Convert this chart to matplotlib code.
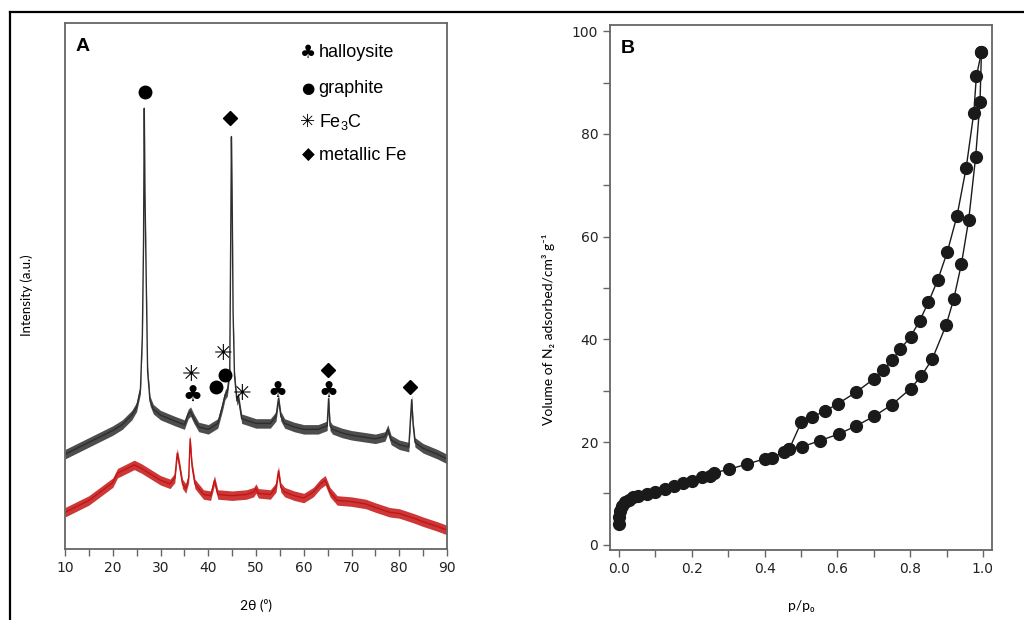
import matplotlib.pyplot as plt
from matplotlib.lines import Line2D
from matplotlib.ticker import MultipleLocator
import numpy as np

# Panel A: XRD patterns (2theta in degrees, intensity in a.u.)
tt_black = [10, 12, 15, 18, 20, 22, 24, 25, 25.8, 26.2, 26.45, 26.6, 26.75, 27.0, 27.3,
            27.8, 28.5, 30, 33, 35, 35.8, 36.3, 37, 38, 40, 42, 43, 43.5, 44, 44.5, 44.7,
            44.85, 45.0, 45.2, 45.5, 46, 46.3, 47, 50, 53, 54.2, 54.7, 55.2, 56, 58, 60,
            63, 64.9, 65.2, 65.5, 66, 68, 70, 75, 77, 77.6, 78.3, 80, 82, 82.35, 82.6,
            82.9, 83.3, 85, 88, 90]
i_black = [80, 84, 90, 96, 100, 105, 113, 120, 135, 180, 260, 372, 300, 230, 150,
           125, 118, 113, 108, 105, 114, 116, 110, 103, 101, 106, 121, 130, 133, 150, 260,
           348, 300, 200, 146, 125, 128, 110, 106, 106, 112, 127, 112, 106, 103, 101,
           101, 104, 127, 104, 101, 98, 96, 93, 95, 101, 92, 88, 86, 110, 126,
           105, 90, 85, 80, 76]

tt_red = [10, 12, 15, 18, 20, 21, 22, 24.5, 26, 28, 30, 32, 33, 33.5, 34, 34.6, 35.3,
          35.9, 36.2, 36.6, 37.2, 39, 40.5, 41.3, 42, 45, 48, 49.5, 50, 50.5, 53, 54.2,
          54.7, 55.2, 56, 58, 60, 62, 63.5, 64.5, 65.5, 67, 70, 73, 75, 78, 80, 83, 85,
          88, 90]
i_red = [31, 35, 41, 50, 56, 64, 66, 71, 68, 63, 58, 55, 60, 81, 70, 55, 51,
         60, 93, 70, 55, 46, 45, 58, 46, 45, 46, 48, 51, 47, 46, 52,
         66, 52, 48, 45, 43, 48, 55, 58, 48, 41, 40, 38, 35, 31, 30, 26, 23,
         19, 16]

# phase symbols above the peaks (2theta, height)
graphite_tt = [26.75, 41.6, 43.6]
graphite_i = [386, 137, 147]
fe_tt = [44.55, 65.1, 82.2]
fe_i = [364, 151, 137]
fe3c_tt = [36.3, 43.1, 47.0]
fe3c_i = [147, 165, 131]
hall_tt = [36.6, 54.4, 65.2]
hall_i = [129, 133, 133]

legend_syms = ['♣', '●', '✳', '◆']
legend_names = ['halloysite', 'graphite', r'Fe$_\mathregular{3}$C', 'metallic Fe']

# Panel B: N2 isotherm
p_ads = [0.0, 0.0, 0.003, 0.007, 0.017, 0.026, 0.039, 0.053, 0.076, 0.099, 0.127,
         0.150, 0.177, 0.200, 0.228, 0.250, 0.260, 0.301, 0.351, 0.402, 0.420, 0.452,
         0.468, 0.503, 0.553, 0.604, 0.650, 0.700, 0.750, 0.801, 0.831, 0.861, 0.899,
         0.920, 0.941, 0.961, 0.980, 0.992, 0.996]
v_ads = [4.0, 5.4, 6.5, 7.5, 8.3, 8.8, 9.3, 9.6, 9.9, 10.3, 10.9,
         11.5, 12.1, 12.5, 13.2, 13.4, 14.0, 14.7, 15.7, 16.8, 17.0, 18.0,
         18.7, 19.1, 20.3, 21.6, 23.1, 25.0, 27.3, 30.4, 32.9, 36.2, 42.8,
         47.9, 54.7, 63.3, 75.5, 86.2, 95.9]
p_des = [0.996, 0.982, 0.975, 0.954, 0.929, 0.902, 0.876, 0.850, 0.826, 0.801, 0.773,
         0.750, 0.725, 0.700, 0.651, 0.602, 0.565, 0.530, 0.501, 0.468]
v_des = [95.9, 91.2, 84.1, 73.4, 64.1, 57.0, 51.6, 47.2, 43.6, 40.5, 38.1,
         35.9, 34.0, 32.3, 29.7, 27.5, 26.0, 24.9, 23.9, 18.7]

spine_col = '#666666'
lab_font = ['Lato', 'DejaVu Sans']
key_size = {'●': 11, '◆': 12, '✳': 13, '♣': 13}

fig = plt.figure(figsize=(10.24, 6.2), dpi=100)

# outer frame (top and left edges)
fig.add_artist(Line2D([10/1024, 1], [1 - 12/620, 1 - 12/620], transform=fig.transFigure, color='k', lw=1.6))
fig.add_artist(Line2D([10/1024, 10/1024], [0, 1 - 12/620], transform=fig.transFigure, color='k', lw=1.6))

# ---- A ----
axA = fig.add_axes([65/1024, 71/620, 382/1024, 526/620])
band = 4
for tt, ii, col in [(tt_black, i_black, '#2e2e2e'), (tt_red, i_red, '#c41515')]:
    tt = np.array(tt)
    ii = np.array(ii)
    axA.fill_between(tt, ii - band, ii + band, color=col, alpha=0.85, lw=0)
    axA.plot(tt, ii, color=col, lw=1.0)
axA.set_xlim(10, 90)
axA.set_ylim(0, 444)
axA.set_yticks([])
axA.xaxis.set_major_locator(MultipleLocator(10))
axA.xaxis.set_minor_locator(MultipleLocator(5))

axA.plot(graphite_tt, graphite_i, 'o', color='k', ms=9, ls='none')
axA.plot(fe_tt, fe_i, 'D', color='k', ms=7.5, ls='none')
for x, y in zip(fe3c_tt, fe3c_i):
    axA.text(x, y, '✳', ha='center', va='center', fontsize=16, family='DejaVu Sans')
for x, y in zip(hall_tt, hall_i):
    axA.text(x, y, '♣', ha='center', va='center', fontsize=16, family='DejaVu Sans')

axA.text(0.027, 0.955, 'A', transform=axA.transAxes, fontsize=14, fontweight='bold',
         family='Liberation Sans', va='center', ha='left')
leg_y = [0.943, 0.875, 0.812, 0.749]
for s, name, y in zip(legend_syms, legend_names, leg_y):
    axA.text(0.636, y, s, transform=axA.transAxes, ha='center', va='center',
             fontsize=key_size[s], family='DejaVu Sans')
    axA.text(0.664, y, name, transform=axA.transAxes, ha='left', va='center', fontsize=13,
             family='Liberation Sans')
axA.set_xlabel('2θ (⁰)', family=lab_font, fontsize=10)
axA.set_ylabel('Intensity (a.u.)', family=lab_font, fontsize=9.5)
axA.xaxis.set_label_coords(0.5, -0.095)
axA.yaxis.set_label_coords(-0.085, 0.483)

# ---- B ----
axB = fig.add_axes([610/1024, 70/620, 382/1024, 525.5/620])
axB.plot(p_ads, v_ads, '-o', color='#1a1a1a', lw=1.0, ms=8.5, mfc='#1a1a1a', mec='#1a1a1a')
axB.plot(p_des, v_des, '-o', color='#1a1a1a', lw=1.0, ms=8.5, mfc='#1a1a1a', mec='#1a1a1a')
axB.set_xlim(-0.025, 1.025)
axB.set_ylim(-1.0, 101.3)
axB.xaxis.set_major_locator(MultipleLocator(0.2))
axB.xaxis.set_minor_locator(MultipleLocator(0.1))
axB.yaxis.set_major_locator(MultipleLocator(20))
axB.yaxis.set_minor_locator(MultipleLocator(10))
axB.set_xticklabels([f'{v:.1f}' for v in axB.get_xticks()])
axB.text(0.027, 0.955, 'B', transform=axB.transAxes, fontsize=14, fontweight='bold',
         family='Liberation Sans', va='center', ha='left')
axB.set_xlabel('p/p₀', family=lab_font, fontsize=10)
axB.set_ylabel('Volume of N₂ adsorbed/cm³ g⁻¹', family=lab_font, fontsize=10)
axB.xaxis.set_label_coords(0.5, -0.095)
axB.yaxis.set_label_coords(-0.145, 0.42)

for ax in (axA, axB):
    for sp in ax.spines.values():
        sp.set_color(spine_col)
        sp.set_linewidth(1.3)
    ax.tick_params(which='both', direction='out', length=5, width=1, color=spine_col,
                   labelsize=10, labelcolor='#222222')

fig.savefig('out.png', dpi=100)
